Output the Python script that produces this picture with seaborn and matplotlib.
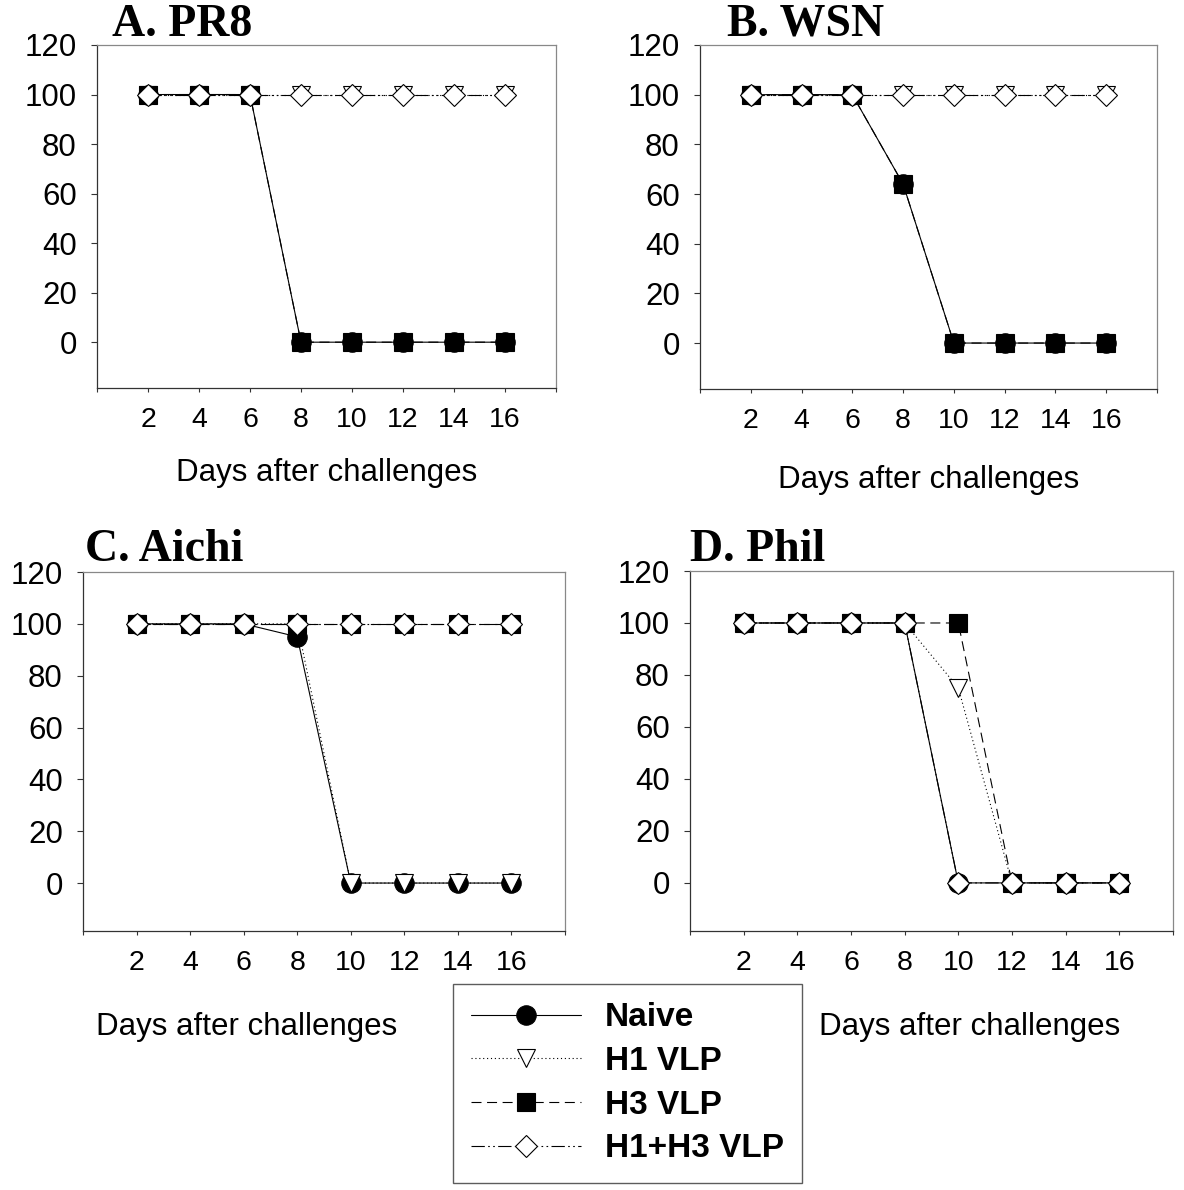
import matplotlib
matplotlib.use("Agg")
import matplotlib.pyplot as plt
import seaborn as sns

# survival (%)
days = [2, 4, 6, 8, 10, 12, 14, 16]
group_names = ["Naive", "H1 VLP", "H3 VLP", "H1+H3 VLP"]
panel_titles = ["A. PR8", "B. WSN", "C. Aichi", "D. Phil"]

pr8_naive = [100, 100, 100, 0, 0, 0, 0, 0]
pr8_h1 = [100, 100, 100, 100, 100, 100, 100, 100]
pr8_h3 = [100, 100, 100, 0, 0, 0, 0, 0]
pr8_h1h3 = [100, 100, 100, 100, 100, 100, 100, 100]

wsn_naive = [100, 100, 100, 64, 0, 0, 0, 0]
wsn_h1 = [100, 100, 100, 100, 100, 100, 100, 100]
wsn_h3 = [100, 100, 100, 64, 0, 0, 0, 0]
wsn_h1h3 = [100, 100, 100, 100, 100, 100, 100, 100]

aichi_naive = [100, 100, 100, 95, 0, 0, 0, 0]
aichi_h1 = [100, 100, 100, 100, 0, 0, 0, 0]
aichi_h3 = [100, 100, 100, 100, 100, 100, 100, 100]
aichi_h1h3 = [100, 100, 100, 100, 100, 100, 100, 100]

phil_naive = [100, 100, 100, 100, 0, 0, 0, 0]
phil_h1 = [100, 100, 100, 100, 75, 0, 0, 0]
phil_h3 = [100, 100, 100, 100, 100, 0, 0, 0]
phil_h1h3 = [100, 100, 100, 100, 0, 0, 0, 0]

panels = [
    [pr8_naive, pr8_h1, pr8_h3, pr8_h1h3],
    [wsn_naive, wsn_h1, wsn_h3, wsn_h1h3],
    [aichi_naive, aichi_h1, aichi_h3, aichi_h1h3],
    [phil_naive, phil_h1, phil_h3, phil_h1h3],
]

# marker / line style per group
styles = [
    dict(marker="o", ms=14, mfc="black", linestyle="-"),
    dict(marker="v", ms=13.5, mfc="white", linestyle=(0, (1, 2.5))),
    dict(marker="s", ms=12.5, mfc="black", linestyle=(0, (9, 5))),
    dict(marker="D", ms=11.5, mfc="white", linestyle=(0, (12, 3, 1.5, 3, 1.5, 3))),
]

sns.set_style("ticks")
plt.rcParams["font.family"] = ["Liberation Sans", "DejaVu Sans"]
plt.rcParams["text.color"] = "black"
plt.rcParams["axes.labelcolor"] = "black"
plt.rcParams["xtick.color"] = "black"
plt.rcParams["ytick.color"] = "black"

fig = plt.figure(figsize=(11.84, 11.90), dpi=100)

# axes boxes in pixels: left, top, right, bottom
boxes = [(97, 45, 556, 388), (700, 45, 1157, 389),
         (83, 572, 565, 931), (690, 571, 1173, 931)]
title_x = [112, 727, 85, 690]
title_y = [36, 36, 561, 561]
xlabel_pos = [(0.501, -0.248), (0.501, -0.265), (0.340, -0.267), (0.578, -0.267)]

W, H = 1184, 1190
axes = []
for i, (l, t, r, b) in enumerate(boxes):
    ax = fig.add_axes([l / W, (H - b) / H, (r - l) / W, (b - t) / H])
    axes.append(ax)
    for vals, st in zip(panels[i], styles):
        sns.lineplot(x=days, y=vals, ax=ax, color="black", lw=0.8,
                     mec="black", mew=0.8, errorbar=None, **st)
    ax.set_xlim(0, 18)
    ax.set_ylim(-18.5, 120)
    ax.set_xticks(range(0, 19, 2))
    ax.set_xticklabels([""] + [str(d) for d in days] + [""])
    ax.set_yticks(range(0, 121, 20))
    ax.tick_params(axis="x", direction="out", length=3, width=0.8,
                   labelsize=20.5, pad=11, color="#333333")
    ax.tick_params(axis="y", direction="out", length=4.5, width=0.8,
                   labelsize=22.5, pad=10, color="#333333")
    for side in ["left", "bottom"]:
        ax.spines[side].set_color("#333333")
        ax.spines[side].set_linewidth(0.9)
    for side in ["top", "right"]:
        ax.spines[side].set_color("#888888")
        ax.spines[side].set_linewidth(0.9)
    ax.set_ylabel("")
    ax.set_xlabel("Days after challenges", fontsize=22.5)
    ax.xaxis.set_label_coords(*xlabel_pos[i])
    ax.xaxis.label.set_verticalalignment("center")
    fig.text(title_x[i] / W, (H - title_y[i]) / H, panel_titles[i],
             family="Liberation Serif", weight="bold", fontsize=33,
             ha="left", va="baseline")

handles = axes[3].get_lines()[:4]
leg = fig.legend(handles, group_names, loc="upper left",
                 bbox_to_anchor=(453 / W, (H - 984) / H),
                 prop={"family": "Liberation Sans", "weight": "bold", "size": 24},
                 frameon=True, fancybox=False, edgecolor="#333333",
                 handlelength=3.3, handletextpad=0.7, labelspacing=0.38,
                 borderpad=0.55, borderaxespad=0)
leg.get_frame().set_linewidth(1.0)

fig.savefig("out.png", dpi=100, facecolor="white")
